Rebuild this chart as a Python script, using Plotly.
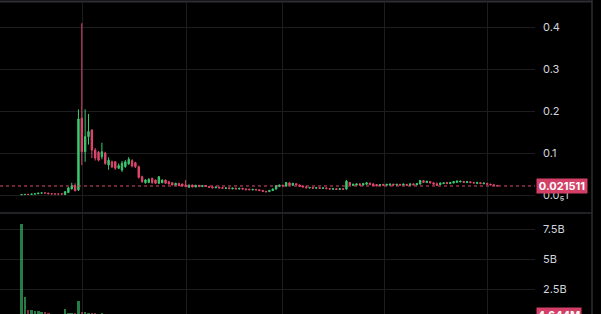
import plotly.graph_objects as go

# Candle series (one entry per bar, oldest first)
opens = [
    .0005, .0010, .0016, .0013, .0022, .0027, .0045, .0050, .0047, .0030,
    .0026, .0024, .0030, .0010, .0060, .0145, .0220, .0120, .1830, .1030,
    .1390, .1550, .1070, .1020, .0910, .1000, .0714, .0790, .0790, .0636,
    .0595, .0674, .0740, .0817, .0770, .0674, .0436, .0293, .0300, .0398,
    .0357, .0279, .0293, .0357, .0317, .0293, .0238, .0279, .0262, .0238,
    .0183, .0238, .0190, .0231, .0200, .0225, .0205, .0195, .0170, .0190,
    .0175, .0155, .0170, .0145, .0165, .0140, .0160, .0145, .0140, .0120,
    .0135, .0125, .0110, .0090, .0080, .0105, .0140, .0200, .0235, .0210,
    .0290, .0230, .0270, .0240, .0215, .0195, .0165, .0180, .0160, .0175,
    .0155, .0170, .0155, .0135, .0150, .0130, .0150, .0140, .0300, .0225,
    .0235, .0265, .0235, .0255, .0285, .0265, .0250, .0225, .0255, .0230,
    .0235, .0260, .0235, .0255, .0235, .0255, .0230, .0265, .0240, .0260,
    .0340, .0295, .0320, .0290, .0265, .0245, .0270, .0300, .0270, .0285,
    .0300, .0310, .0325, .0295, .0315, .0300, .0275, .0295, .0265, .0280,
    .0260, .0245, .0225,
]
highs = [
    .0012, .0016, .0018, .0024, .0030, .0048, .0055, .0056, .0049, .0033,
    .0029, .0027, .0034, .0090, .0185, .0290, .0280, .2040, .4090, .2040,
    .1930, .1560, .1120, .1050, .1245, .1030, .0900, .0820, .0810, .0750,
    .0810, .0830, .0900, .0850, .0790, .0700, .0460, .0380, .0400, .0410,
    .0370, .0450, .0370, .0365, .0325, .0300, .0290, .0285, .0270, .0357,
    .0245, .0245, .0240, .0236, .0232, .0230, .0210, .0200, .0195, .0195,
    .0180, .0175, .0175, .0170, .0170, .0165, .0165, .0150, .0145, .0140,
    .0140, .0130, .0115, .0095, .0115, .0150, .0230, .0245, .0240, .0310,
    .0295, .0285, .0275, .0245, .0220, .0200, .0185, .0185, .0180, .0180,
    .0175, .0175, .0160, .0155, .0155, .0155, .0155, .0357, .0310, .0265,
    .0270, .0270, .0280, .0310, .0290, .0270, .0255, .0255, .0260, .0260,
    .0265, .0265, .0260, .0260, .0265, .0260, .0270, .0270, .0280, .0360,
    .0345, .0335, .0325, .0295, .0300, .0290, .0295, .0305, .0305, .0325,
    .0340, .0335, .0330, .0325, .0320, .0305, .0305, .0300, .0290, .0285,
    .0265, .0250, .0230,
]
lows = [
    .0003, .0008, .0011, .0012, .0020, .0025, .0040, .0044, .0028, .0024,
    .0022, .0020, .0020, .0005, .0050, .0130, .0090, .0095, .0710, .0790,
    .1200, .0880, .0820, .0800, .0850, .0720, .0600, .0640, .0600, .0620,
    .0550, .0650, .0720, .0660, .0640, .0390, .0290, .0270, .0280, .0270,
    .0260, .0260, .0280, .0270, .0250, .0230, .0230, .0210, .0205, .0190,
    .0178, .0185, .0185, .0195, .0195, .0200, .0180, .0165, .0165, .0163,
    .0155, .0150, .0145, .0140, .0140, .0135, .0135, .0120, .0120, .0115,
    .0115, .0100, .0080, .0070, .0075, .0100, .0135, .0195, .0210, .0205,
    .0230, .0225, .0235, .0200, .0185, .0165, .0160, .0155, .0155, .0150,
    .0150, .0145, .0135, .0130, .0125, .0125, .0130, .0130, .0235, .0220,
    .0230, .0230, .0230, .0250, .0240, .0220, .0210, .0220, .0225, .0225,
    .0230, .0230, .0230, .0230, .0230, .0225, .0225, .0235, .0235, .0255,
    .0295, .0290, .0280, .0250, .0210, .0240, .0265, .0265, .0265, .0280,
    .0295, .0305, .0295, .0290, .0290, .0280, .0270, .0265, .0260, .0250,
    .0235, .0220, .0210,
]
closes = [
    .0010, .0014, .0013, .0022, .0027, .0045, .0050, .0047, .0030, .0026,
    .0024, .0022, .0022, .0080, .0170, .0220, .0100, .1810, .1030, .1390,
    .1510, .1070, .0880, .0830, .1030, .0750, .0830, .0670, .0636, .0700,
    .0755, .0790, .0850, .0690, .0674, .0420, .0317, .0357, .0374, .0293,
    .0279, .0436, .0357, .0279, .0262, .0238, .0279, .0221, .0214, .0198,
    .0238, .0190, .0231, .0200, .0225, .0205, .0185, .0170, .0190, .0168,
    .0160, .0170, .0150, .0165, .0145, .0160, .0140, .0125, .0125, .0135,
    .0120, .0105, .0085, .0075, .0110, .0145, .0225, .0240, .0215, .0295,
    .0235, .0280, .0240, .0205, .0190, .0170, .0180, .0160, .0175, .0155,
    .0170, .0150, .0140, .0150, .0130, .0150, .0135, .0330, .0240, .0260,
    .0265, .0235, .0275, .0290, .0245, .0225, .0215, .0250, .0230, .0255,
    .0260, .0235, .0255, .0235, .0260, .0230, .0265, .0240, .0275, .0345,
    .0300, .0330, .0285, .0255, .0230, .0285, .0290, .0270, .0300, .0320,
    .0335, .0330, .0300, .0320, .0295, .0285, .0300, .0270, .0285, .0255,
    .0240, .0225, .021511,
]
volumes = [
    7.90e9, 1.85e9, 0.78e9, 0.74e9, 0.70e9, 0.66e9, 0.62e9, 0.55e9, 0.50e9, 0.44e9,
    0.42e9, 0.40e9, 0.43e9, 0.82e9, 0.52e9, 0.48e9, 0.46e9, 1.50e9, 0.62e9, 0.55e9,
    0.50e9, 0.48e9, 0.46e9, 0.45e9, 0.46e9, 0.44e9, 0.43e9, 0.44e9, 0.42e9, 0.43e9,
    0.44e9, 0.43e9, 0.45e9, 0.43e9, 0.42e9, 0.44e9, 0.43e9, 0.41e9, 0.42e9, 0.43e9,
    0.41e9, 0.44e9, 0.42e9, 0.41e9, 0.40e9, 0.42e9, 0.41e9, 0.40e9, 0.42e9, 0.43e9,
    0.41e9, 0.40e9, 0.42e9, 0.40e9, 0.39e9, 0.41e9, 0.40e9, 0.42e9, 0.41e9, 0.40e9,
    0.39e9, 0.41e9, 0.40e9, 0.42e9, 0.39e9, 0.40e9, 0.41e9, 0.39e9, 0.40e9, 0.41e9,
    0.40e9, 0.42e9, 0.43e9, 0.41e9, 0.42e9, 0.43e9, 0.44e9, 0.43e9, 0.42e9, 0.44e9,
    0.43e9, 0.42e9, 0.41e9, 0.42e9, 0.40e9, 0.41e9, 0.40e9, 0.39e9, 0.41e9, 0.40e9,
    0.39e9, 0.40e9, 0.41e9, 0.39e9, 0.40e9, 0.41e9, 0.40e9, 0.44e9, 0.43e9, 0.42e9,
    0.41e9, 0.42e9, 0.43e9, 0.42e9, 0.41e9, 0.42e9, 0.40e9, 0.41e9, 0.42e9, 0.40e9,
    0.41e9, 0.42e9, 0.40e9, 0.41e9, 0.40e9, 0.42e9, 0.41e9, 0.40e9, 0.42e9, 0.44e9,
    0.43e9, 0.42e9, 0.41e9, 0.42e9, 0.43e9, 0.41e9, 0.40e9, 0.42e9, 0.41e9, 0.42e9,
    0.43e9, 0.41e9, 0.40e9, 0.41e9, 0.40e9, 0.39e9, 0.41e9, 0.40e9, 0.39e9, 0.40e9,
    0.38e9, 0.37e9, 4.644e6,
]

price_ticks = [0.000001, 0.1, 0.2, 0.3, 0.4]
price_tick_labels = ["0.0\u20851", "0.1", "0.2", "0.3", "0.4"]
volume_ticks = [2.5e9, 5e9, 7.5e9]
volume_tick_labels = ["2.5B", "5B", "7.5B"]
time_grid = [18.06, 49.4, 77.8, 108.5, 139.0]

UP = "#3cc96f"
DOWN = "#e0476f"
UP_VOL = "rgba(60,201,111,0.62)"
DOWN_VOL = "rgba(224,71,111,0.62)"
GRID = "#1d1d1f"
BORDER = "#2e2e33"
TEXT = "#d1d4dc"
LABEL_BG = "#d33f66"
FONT = "Inter, Roboto, sans-serif"

W, H = 601, 314
idx = list(range(len(closes)))

fig = go.Figure()
fig.add_trace(go.Candlestick(
    x=idx, open=opens, high=highs, low=lows, close=closes,
    increasing=dict(line=dict(color=UP, width=1), fillcolor=UP),
    decreasing=dict(line=dict(color=DOWN, width=1), fillcolor=DOWN),
    whiskerwidth=0, xaxis="x", yaxis="y", showlegend=False,
))
vol_colors = [UP_VOL if c >= o else DOWN_VOL for o, c in zip(opens, closes)]
fig.add_trace(go.Bar(
    x=idx, y=volumes, marker=dict(color=vol_colors, line=dict(width=0)),
    width=0.75, xaxis="x2", yaxis="y2", showlegend=False,
))

# pixel geometry of the two panes
plot_right = 535
price_top_px, price_bot_px = 3, 212
vol_top_px, vol_bot_px = 214, 314
x_range = [(0 - 21.5) / 3.35, (plot_right - 21.5) / 3.35]


def fy(px):
    # vertical pixel -> paper fraction (plot area spans the full height)
    return 1 - px / H


def fx(px):
    # horizontal pixel -> paper fraction (plot area spans 0..plot_right)
    return px / plot_right


price_range = [(195 - price_bot_px) / 420, (195 - price_top_px) / 420]
vol_range = [(319 - vol_bot_px) * 2.5e9 / 30, (319 - vol_top_px) * 2.5e9 / 30]

axis_font = dict(family=FONT, size=11, color=TEXT)
xcommon = dict(showticklabels=False, tickvals=time_grid,
               showgrid=True, gridcolor=GRID, gridwidth=1, zeroline=False,
               showline=False, rangeslider=dict(visible=False), fixedrange=True)

fig.update_layout(
    width=W, height=H,
    margin=dict(l=0, r=W - plot_right, t=0, b=0),
    paper_bgcolor="#000000", plot_bgcolor="#000000",
    boxgap=0.4, bargap=0,
    xaxis=dict(domain=[0, 1], anchor="y", range=x_range, **xcommon),
    xaxis2=dict(domain=[0, 1], anchor="y2", matches="x", **xcommon),
    yaxis=dict(domain=[fy(price_bot_px), fy(price_top_px)], range=price_range,
               side="right", tickvals=price_ticks, ticktext=price_tick_labels,
               tickfont=axis_font, ticks="", ticklabelstandoff=7,
               showgrid=True, gridcolor=GRID, zeroline=False, showline=False, fixedrange=True),
    yaxis2=dict(domain=[fy(vol_bot_px), fy(vol_top_px)], range=vol_range,
                side="right", tickvals=volume_ticks, ticktext=volume_tick_labels,
                tickfont=axis_font, ticks="", ticklabelstandoff=7,
                showgrid=True, gridcolor=GRID, zeroline=False, showline=False, fixedrange=True),
    shapes=[
        # last-price dotted line
        dict(type="line", xref="paper", yref="y", x0=0, x1=1,
             y0=closes[-1], y1=closes[-1], line=dict(color=DOWN, width=1, dash="dot")),
        # frame lines
        dict(type="line", xref="paper", yref="paper", x0=0, x1=fx(592),
             y0=fy(1.5), y1=fy(1.5), line=dict(color=BORDER, width=2)),
        dict(type="line", xref="paper", yref="paper", x0=0, x1=fx(592),
             y0=fy(213), y1=fy(213), line=dict(color=BORDER, width=1.5)),
        dict(type="line", xref="paper", yref="paper", x0=fx(592), x1=fx(592),
             y0=0, y1=1, line=dict(color=BORDER, width=1.5)),
    ],
    annotations=[
        dict(xref="paper", yref="y", x=fx(536), y=closes[-1], xanchor="left", yanchor="middle",
             text=f"<b>{closes[-1]:.6f}</b>", showarrow=False, bgcolor=LABEL_BG,
             font=dict(family=FONT, size=11, color="#ffffff"), width=48, height=12, borderpad=1),
        dict(xref="paper", yref="paper", x=fx(536), y=fy(307), xanchor="left", yanchor="top",
             text=f"<b>{volumes[-1] / 1e6:.3f}M</b>", showarrow=False, bgcolor=LABEL_BG,
             font=dict(family=FONT, size=11, color="#ffffff"), width=42, height=12, borderpad=1),
    ],
)

fig.write_html("out.html")
